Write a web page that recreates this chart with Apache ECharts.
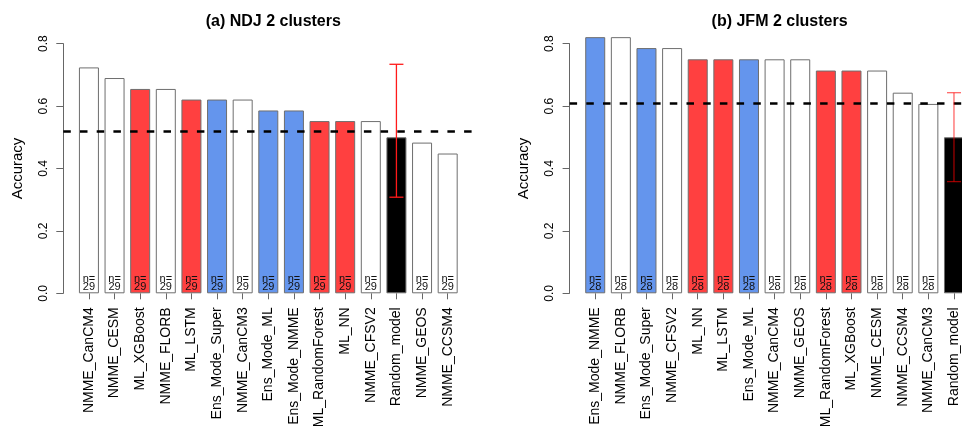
<!DOCTYPE html>
<html>
<head>
<meta charset="utf-8">
<script src="https://cdn.jsdelivr.net/npm/echarts@6/dist/echarts.min.js"></script>
<style>
html, body {margin: 0; padding: 0; background: #fff;}
#main {width: 962px; height: 433px;}
</style>
</head>
<body>
<div id="main"></div>
<script>
// (a) NDJ
var ndjNames = ['NMME_CanCM4', 'NMME_CESM', 'ML_XGBoost', 'NMME_FLORB', 'ML_LSTM', 'Ens_Mode_Super', 'NMME_CanCM3',
    'Ens_Mode_ML', 'Ens_Mode_NMME', 'ML_RandomForest', 'ML_NN', 'NMME_CFSV2', 'Random_model', 'NMME_GEOS', 'NMME_CCSM4'];
var ndjValues = [0.724, 0.690, 0.655, 0.655, 0.621, 0.621, 0.621, 0.586, 0.586, 0.552, 0.552, 0.552, 0.500, 0.483, 0.448];
var ndjGroups = ['N', 'N', 'M', 'N', 'M', 'E', 'N', 'E', 'E', 'M', 'M', 'N', 'R', 'N', 'N'];
var ndjN = 29;
var ndjRef = 0.517;
var ndjErr = [0.308, 0.734];

// (b) JFM
var jfmNames = ['Ens_Mode_NMME', 'NMME_FLORB', 'Ens_Mode_Super', 'NMME_CFSV2', 'ML_NN', 'ML_LSTM', 'Ens_Mode_ML',
    'NMME_CanCM4', 'NMME_GEOS', 'ML_RandomForest', 'ML_XGBoost', 'NMME_CESM', 'NMME_CCSM4', 'NMME_CanCM3', 'Random_model'];
var jfmValues = [0.821, 0.821, 0.786, 0.786, 0.750, 0.750, 0.750, 0.750, 0.750, 0.714, 0.714, 0.714, 0.643, 0.607, 0.500];
var jfmGroups = ['E', 'N', 'E', 'N', 'M', 'M', 'E', 'N', 'N', 'M', 'M', 'N', 'N', 'N', 'R'];
var jfmN = 28;
var jfmRef = 0.607;
var jfmErr = [0.358, 0.643];

var yTicks = [0, 0.2, 0.4, 0.6, 0.8];

var groupColor = {N: '#ffffff', M: '#ff4040', E: '#6495ed', R: '#000000'};
var fontFamily = '"Liberation Sans", Arial, Helvetica, sans-serif';

var chart = echarts.init(document.getElementById('main'));

var option = {
    animation: false,
    backgroundColor: '#fff',
    title: [],
    grid: [],
    xAxis: [],
    yAxis: [],
    series: []
};

function addPanel(idx, title, left, names, values, groups, n, ref, err, errColor) {
    var cats = [''].concat(names).concat(['']);
    var last = cats.length - 1;
    option.title.push({
        text: title,
        left: left + 205,
        top: 9,
        textAlign: 'center',
        textStyle: {fontFamily: fontFamily, fontSize: 16, fontWeight: 'bold', color: '#000'}
    });
    option.grid.push({left: left, top: 43.7, width: 410, height: 249.6, outerBoundsMode: 'none', containLabel: false});
    option.xAxis.push({
        type: 'category',
        gridIndex: idx,
        data: cats,
        boundaryGap: false,
        offset: 2,
        axisLine: {show: false},
        axisTick: {
            show: true, length: 6,
            interval: function (i) { return i > 0 && i < last; },
            lineStyle: {color: '#666', width: 1}
        },
        axisLabel: {
            rotate: 90, margin: 12, interval: 0,
            fontFamily: fontFamily, fontSize: 14, color: '#000'
        },
        splitLine: {show: false}
    });
    option.yAxis.push({
        type: 'value',
        gridIndex: idx,
        min: yTicks[0], max: yTicks[yTicks.length - 1], interval: 0.2,
        name: 'Accuracy',
        nameLocation: 'middle',
        nameGap: 38,
        nameTextStyle: {fontFamily: fontFamily, fontSize: 15, color: '#000'},
        axisLine: {show: true, lineStyle: {color: '#666', width: 1}},
        axisTick: {show: true, length: 7, lineStyle: {color: '#666', width: 1}},
        axisLabel: {
            rotate: 90, margin: 14,
            fontFamily: fontFamily, fontSize: 12, color: '#000',
            formatter: function (v) { return v.toFixed(1); }
        },
        splitLine: {show: false}
    });

    var barData = ['-'];
    values.forEach(function (v, i) {
        var g = groups[i];
        barData.push({
            value: v,
            itemStyle: {color: groupColor[g]},
            label: {show: g !== 'R'}
        });
    });
    barData.push('-');

    option.series.push({
        type: 'bar',
        xAxisIndex: idx,
        yAxisIndex: idx,
        data: barData,
        barWidth: 20,
        clip: false,
        itemStyle: {borderColor: '#6e6e6e', borderWidth: 1},
        label: {
            show: true,
            position: 'insideBottom',
            distance: 2,
            formatter: 'n=\n' + n,
            fontFamily: fontFamily,
            fontSize: 11,
            lineHeight: 8.5,
            color: '#111'
        },
        markLine: {
            silent: true,
            symbol: 'none',
            label: {show: false},
            lineStyle: {color: '#000', width: 2.7, type: [7.5, 9.2]},
            data: [{yAxis: ref}]
        },
        z: 2
    });

    var errIndex = names.indexOf('Random_model') + 1;
    option.series.push({
        type: 'custom',
        xAxisIndex: idx,
        yAxisIndex: idx,
        data: [[errIndex, err[0], err[1]]],
        clip: false,
        z: 5,
        renderItem: function (params, api) {
            var lo = api.coord([api.value(0), api.value(1)]);
            var hi = api.coord([api.value(0), api.value(2)]);
            var hw = 7;
            var style = {stroke: errColor, lineWidth: 1.3};
            return {
                type: 'group',
                children: [
                    {type: 'line', shape: {x1: lo[0], y1: lo[1], x2: hi[0], y2: hi[1]}, style: style},
                    {type: 'line', shape: {x1: lo[0] - hw, y1: lo[1], x2: lo[0] + hw, y2: lo[1]}, style: style},
                    {type: 'line', shape: {x1: hi[0] - hw, y1: hi[1], x2: hi[0] + hw, y2: hi[1]}, style: style}
                ]
            };
        }
    });
}

addPanel(0, '(a) NDJ 2 clusters', 63.3, ndjNames, ndjValues, ndjGroups, ndjN, ndjRef, ndjErr, '#ff1a1a');
addPanel(1, '(b) JFM 2 clusters', 569.6, jfmNames, jfmValues, jfmGroups, jfmN, jfmRef, jfmErr, 'rgba(255,0,0,0.6)');

chart.setOption(option);
</script>
</body>
</html>
